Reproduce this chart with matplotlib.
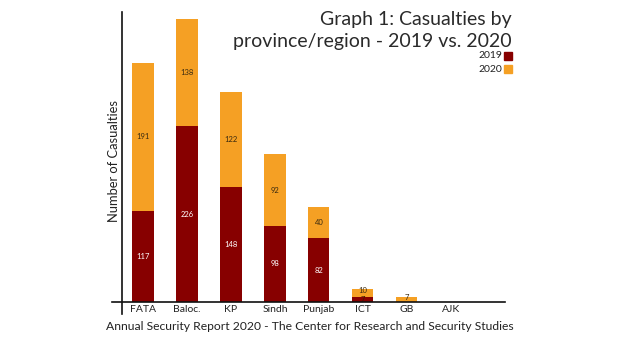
import matplotlib
matplotlib.use("Agg")
import matplotlib.pyplot as plt

plt.rcParams['font.family'] = ['Lato', 'DejaVu Sans']

regions = ["FATA", "Baloc.", "KP", "Sindh", "Punjab", "ICT", "GB", "AJK"]
cas_2019 = [117, 226, 148, 98, 82, 7, 0, 0]
cas_2020 = [191, 138, 122, 92, 40, 10, 7, 0]

c2019 = "#870000"
c2020 = "#F5A024"

fig = plt.figure(figsize=(6.4, 3.44), dpi=100)
W, H = 640, 344
ax = fig.add_axes([122 / W, 1 - 302 / H, (505 - 122) / W, (302 - 12) / H])

x = list(range(len(regions)))
ax.bar(x, cas_2019, width=0.48, color=c2019, zorder=2)
ax.bar(x, cas_2020, width=0.48, bottom=cas_2019, color=c2020, zorder=2)

for i in x:
    a, b = cas_2019[i], cas_2020[i]
    if a > 0:
        ax.text(i, a / 2, str(a), ha='center', va='center',
                color='white' if a > 20 else '#3a1a00', fontsize=5.5, zorder=3)
    if b > 0:
        yb = a + b / 2 if b > 20 else a + b / 2 + 2.5
        ax.text(i, yb, str(b), ha='center', va='center', color='#3a2a10',
                fontsize=5.5, zorder=3)

ax.set_xlim(-0.477, 8.23)
ax.set_ylim(0, 373)
for s in ax.spines.values():
    s.set_visible(False)
ax.set_yticks([])
ax.set_xticks(x)
ax.set_xticklabels(regions, fontsize=7.5, color='#222222')
ax.tick_params(axis='x', length=0, pad=2)

# axis lines extending slightly past the origin
ax.plot([-10 / 383, 1], [0, 0], transform=ax.transAxes, color='#111111',
        lw=1.2, clip_on=False, zorder=4)
ax.plot([0, 0], [-12 / 290, 1], transform=ax.transAxes, color='#111111',
        lw=1.2, clip_on=False, zorder=4)

fig.text(114 / W, 1 - 161 / H, "Number of Casualties", rotation=90,
         ha='center', va='center', fontsize=9.3, color='#222222')
fig.text(310 / W, 1 - 326 / H,
         "Annual Security Report 2020 - The Center for Research and Security Studies",
         ha='center', va='center', fontsize=8.7, color='#222222')

fig.text(512 / W, 1 - 20 / H, "Graph 1: Casualties by", ha='right', va='center',
         fontsize=14, color='#2a2a2a')
fig.text(512 / W, 1 - 42 / H, "province/region - 2019 vs. 2020", ha='right',
         va='center', fontsize=14, color='#2a2a2a')

for yy, lab, col in [(56, "2019", c2019), (69, "2020", c2020)]:
    fig.text(502 / W, 1 - yy / H, lab, ha='right', va='center', fontsize=7.5,
             color='#222222')
    fig.patches.append(plt.Rectangle((504 / W, 1 - (yy + 4) / H), 8 / W, 8 / H,
                                     transform=fig.transFigure, color=col,
                                     figure=fig))

fig.savefig("out.png", dpi=100)
